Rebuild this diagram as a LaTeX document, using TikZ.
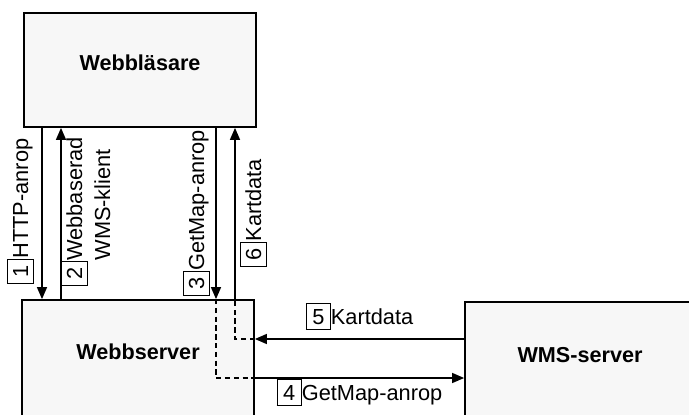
\documentclass[tikz,border=0pt]{standalone}
\usepackage{fontspec}
\setmainfont{Liberation Sans}
\usetikzlibrary{arrows.meta}

% boxed step number in front of a label
\newcommand{\stepno}[1]{{\setlength{\fboxsep}{0pt}\setlength{\fboxrule}{0.6pt}%
  \fbox{\rule[-2.8pt]{0pt}{14pt}\hspace{3.1pt}#1\hspace{3.1pt}}}}

\begin{document}
\begin{tikzpicture}[
    every node/.style={font=\fontsize{12.4}{16}\selectfont},
    system/.style={draw=black, line width=1pt, fill=black!3, inner sep=0pt},
    title/.style={font=\fontsize{12.3}{16}\selectfont\bfseries},
    flow/.style={-{Triangle[length=0.24cm, width=0.2cm]}, line width=0.8pt},
    inside/.style={line width=1.1pt, dash pattern=on 3pt off 2pt},
    uplabel/.style={inner sep=0pt, anchor=base west, rotate=90},
    sidelabel/.style={inner sep=0pt, anchor=base}
]
\useasboundingbox (0,0) rectangle (13.78,8.28);
\clip (0,0) rectangle (13.78,8.28);

% === Boxes ===
\node[system, minimum width=4.64cm, minimum height=2.28cm] (browser) at (2.80,6.88) {};
\node[title] (browsertext) at (2.80,7.02) {Webbläsare};

\node[system, minimum width=4.64cm, minimum height=2.78cm] (server) at (2.76,0.89) {};
\node[title] (servertext) at (2.76,1.24) {Webbserver};

\node[system, minimum width=5.00cm, minimum height=2.74cm] (wms) at (11.80,0.87) {};
\node[title] (wmstext) at (11.60,1.18) {WMS-server};

% === Browser <-> Webbserver ===
\draw[flow] (0.84,0 |- browser.south) -- (0.84,0 |- server.north);
\draw[flow] (1.22,0 |- server.north) -- (1.22,0 |- browser.south);
\draw[flow] (4.32,0 |- browser.south) -- (4.32,0 |- server.north);
\draw[flow] (4.70,0 |- server.north) -- (4.70,0 |- browser.south);

% === Webbserver <-> WMS-server ===
\draw[inside] (4.32,0 |- server.north) -- (4.32,0.72) -- (server.east |- 0,0.72);
\draw[flow] (server.east |- 0,0.72) -- (wms.west |- 0,0.72);
\draw[flow] (wms.west |- 0,1.50) -- (server.east |- 0,1.50);
\draw[inside] (server.east |- 0,1.50) -- (4.70,1.50) -- (4.70,0 |- server.north);

% === Labels ===
\node[uplabel] (lbl1) at (0.56,2.60) {\stepno{1}HTTP-anrop};
\node[uplabel] (lbl2) at (1.64,2.56)
     {\stepno{2}\begin{tabular}[t]{@{}l@{}}Webbaserad\\WMS-klient\end{tabular}};
\node[uplabel] (lbl3) at (4.08,2.36) {\stepno{3}GetMap-anrop};
\node[uplabel] (lbl6) at (5.22,2.94) {\stepno{6}Kartdata};

\node[sidelabel] (lbl5) at (7.19,1.80) {\stepno{5}Kartdata};
\node[sidelabel] (lbl4) at (7.19,0.28) {\stepno{4}GetMap-anrop};

\end{tikzpicture}
\end{document}
